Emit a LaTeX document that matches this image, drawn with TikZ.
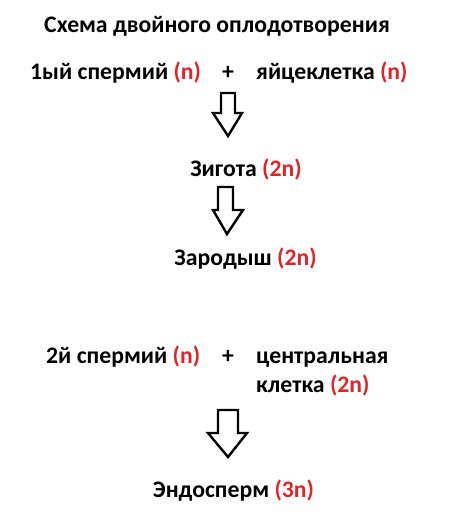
\documentclass[tikz,border=0pt]{standalone}
\usepackage{fontspec}
\usepackage{xcolor}
\setmainfont{Carlito}
\definecolor{nred}{RGB}{226,36,40}

\begin{document}
\begin{tikzpicture}[x=1bp,y=-1bp,
  txt/.style={inner sep=0pt,font=\fontsize{23.8}{27}\selectfont\bfseries},
  blockarrow/.style={draw=black,line width=2.4bp,line join=miter}]
  \useasboundingbox (0,0) rectangle (471,523);

  % Titulo
  \node[txt,anchor=base] (title) at (217,33) {Схема двойного оплодотворения};

  % Primera fecundacion
  \node[txt,anchor=base west] (sperma) at (30,80) {1ый спермий {\color{nred}(n)}};
  \node[txt,anchor=base] (plusa) at (228,80) {+};
  \node[txt,anchor=base west] (egg) at (256,80) {яйцеклетка {\color{nred}(n)}};

  \draw[blockarrow] (221,93) -- (235,93) -- (235,113) -- (242,113) -- (228,136)
    -- (213,113) -- (221,113) -- cycle;

  \node[txt,anchor=base] (zygote) at (246,177) {Зигота {\color{nred}(2n)}};

  \draw[blockarrow] (218,187) -- (233,187) -- (233,210) -- (243,210) -- (227,234)
    -- (213,210) -- (218,210) -- cycle;

  \node[txt,anchor=base] (embryo) at (245.5,265) {Зародыш {\color{nred}(2n)}};

  % Segunda fecundacion
  \node[txt,anchor=base west] (spermb) at (46,363) {2й спермий {\color{nred}(n)}};
  \node[txt,anchor=base] (plusb) at (228,363) {+};
  \node[txt,anchor=base west] (central) at (256,363) {центральная};
  \node[txt,anchor=base west] (cell) at (256,392) {клетка {\color{nred}(2n)}};

  \draw[blockarrow] (218,410) -- (238,410) -- (238,433) -- (247,433) -- (228,457)
    -- (208,433) -- (218,433) -- cycle;

  \node[txt,anchor=base] (endosperm) at (233.5,497) {Эндосперм {\color{nred}(3n)}};
\end{tikzpicture}
\end{document}
